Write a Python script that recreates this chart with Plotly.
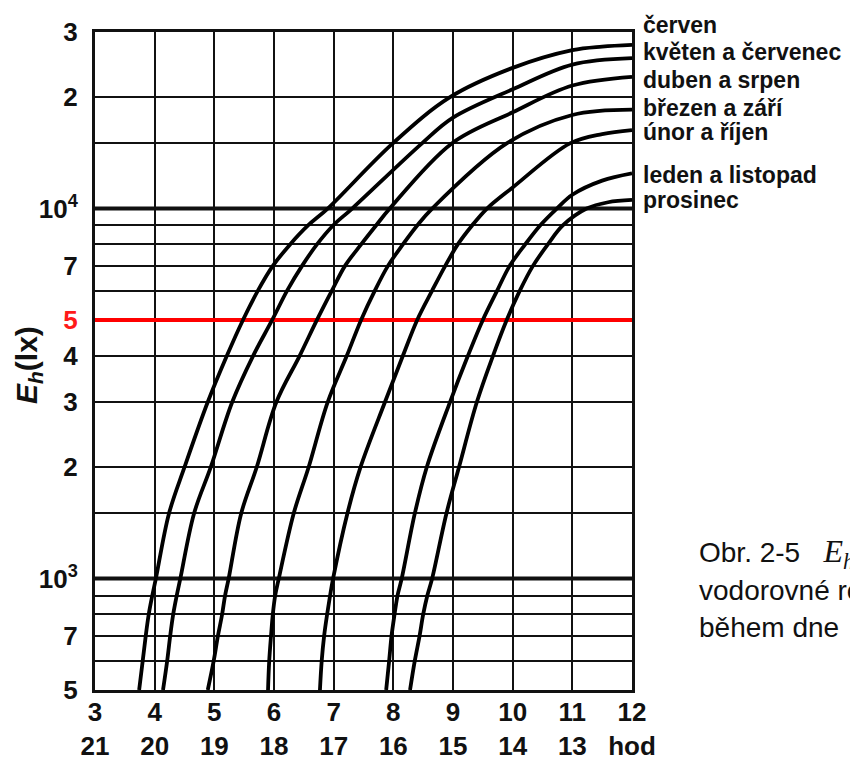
import plotly.graph_objects as go

# ---------------- data ----------------
hours = [3, 4, 5, 6, 7, 8, 9, 10, 11, 12]
hours_pm = ["21", "20", "19", "18", "17", "16", "15", "14", "13", "hod"]

y_label_vals = [30000, 20000, 10000, 7000, 5000, 4000, 3000, 2000, 1000, 700, 500]
y_labels = ["3", "2", "10<sup>4</sup>", "7", "<span style='color:#ff1a1a'>5</span>", "4",
            "3", "2", "10<sup>3</sup>", "7", "5"]
y_minor_grid = [15000, 9000, 8000, 6000, 1500, 900, 800, 600]
decade_lines = [1000, 10000]
red_level = 5000

base_E = [500, 600, 700, 800, 900, 1000, 1500, 2000, 3000, 4000,
          5000, 6000, 7000, 8000, 9000, 10000]

cerven_h = [3.74, 3.80, 3.85, 3.90, 3.96, 4.02, 4.24, 4.50, 4.89, 5.21,
            5.48, 5.73, 5.98, 6.27, 6.57, 6.90, 7.99, 8.95, 10.0, 11.0, 11.5, 12.0]
cerven_E = base_E + [15000, 20000, 24000, 26800, 27400, 27700]

kveten_h = [4.14, 4.21, 4.26, 4.31, 4.37, 4.43, 4.66, 4.94, 5.30, 5.65,
            5.97, 6.22, 6.47, 6.72, 6.99, 7.31, 8.48, 9.0, 10.0, 11.0, 12.0]
kveten_E = base_E + [15000, 17600, 21000, 24500, 25500]

duben_h = [4.89, 4.99, 5.06, 5.13, 5.18, 5.24, 5.45, 5.71, 6.04, 6.43,
           6.72, 6.97, 7.19, 7.46, 7.71, 7.94, 8.98, 10.0, 11.0, 12.0]
duben_E = base_E + [15000, 18200, 21500, 22700]

brezen_h = [5.90, 5.92, 5.95, 5.98, 6.02, 6.08, 6.33, 6.58, 6.90, 7.22,
            7.46, 7.69, 7.91, 8.16, 8.40, 8.65, 9.90, 11.0, 12.0]
brezen_E = base_E + [15000, 17900, 18500]

unor_h = [6.77, 6.80, 6.84, 6.89, 6.94, 6.99, 7.23, 7.45, 7.86, 8.16,
          8.40, 8.65, 8.87, 9.08, 9.32, 9.57, 10.0, 10.96, 11.5, 12.0]
unor_E = base_E + [11400, 15000, 15900, 16300]

leden_h = [7.88, 7.93, 7.97, 8.02, 8.07, 8.14, 8.36, 8.56, 8.95, 9.25,
           9.50, 9.74, 9.95, 10.21, 10.46, 10.74, 11.0, 11.5, 12.0]
leden_E = base_E + [10900, 11900, 12450]

prosinec_h = [8.28, 8.36, 8.44, 8.50, 8.57, 8.65, 8.89, 9.10, 9.40, 9.67,
              9.90, 10.12, 10.34, 10.59, 10.84, 11.24, 11.6, 12.0]
prosinec_E = base_E + [10400, 10550]

curves = [
    ("červen", cerven_h, cerven_E),
    ("květen a červenec", kveten_h, kveten_E),
    ("duben a srpen", duben_h, duben_E),
    ("březen a září", brezen_h, brezen_E),
    ("únor a říjen", unor_h, unor_E),
    ("leden a listopad", leden_h, leden_E),
    ("prosinec", prosinec_h, prosinec_E),
]

# label pixel rows (layout)
label_px_y = [25, 52, 80, 108, 132, 175, 200]

# ---------------- figure ----------------
W, H = 850, 760
L, R, T, B = 95, 218, 32, 70
pw, ph = W - L - R, H - T - B

def px_to_paper_x(px):
    return (px - L) / pw

def px_to_paper_y(py):
    return 1 - (py - T) / ph

fig = go.Figure()

for v in decade_lines:
    fig.add_trace(go.Scatter(x=[hours[0], hours[-1]], y=[v, v], mode="lines",
                             line=dict(color="#111", width=4), hoverinfo="skip", showlegend=False))
fig.add_trace(go.Scatter(x=[hours[0], hours[-1]], y=[red_level, red_level], mode="lines",
                         line=dict(color="#ff0000", width=4), hoverinfo="skip", showlegend=False))

for name, hx, ey in curves:
    fig.add_trace(go.Scatter(x=hx, y=ey, mode="lines", name=name,
                             line=dict(color="#000", width=3.8, shape="spline", smoothing=1.0),
                             showlegend=False))

tick_x_text = [f"{a}<br>{b}" for a, b in zip(hours, hours_pm)]
tick_font_x = dict(family="Liberation Sans", size=26, weight="bold", color="#111")
tick_font_y = dict(family="Liberation Sans", size=26, weight="bold", color="#111")

fig.update_layout(
    width=W, height=H,
    margin=dict(l=L, r=R, t=T, b=B, autoexpand=False),
    paper_bgcolor="white", plot_bgcolor="white",
    font=dict(family="Liberation Sans", color="#111"),
    xaxis=dict(range=[3, 12], tickvals=hours, ticktext=tick_x_text, automargin=False,
               showgrid=True, gridcolor="#111", gridwidth=2,
               showline=True, linecolor="#111", linewidth=3, mirror=True,
               ticks="", zeroline=False, ticklabelstandoff=-3, tickfont=tick_font_x),
    yaxis=dict(type="log", range=[2.69897, 4.4771213], tickvals=y_label_vals, ticktext=y_labels,
               automargin=False,
               showgrid=True, gridcolor="#111", gridwidth=2,
               minor=dict(tickvals=y_minor_grid, showgrid=True, gridcolor="#111", gridwidth=2, ticks=""),
               showline=True, linecolor="#111", linewidth=3, mirror=True,
               ticks="", zeroline=False, ticklabelstandoff=9, tickfont=tick_font_y),
)

annotations = []
for (name, _, _), py in zip(curves, label_px_y):
    annotations.append(dict(xref="paper", yref="paper", x=px_to_paper_x(641), y=px_to_paper_y(py),
                            text=name, showarrow=False, xanchor="left", yanchor="middle",
                            font=dict(family="Liberation Sans", size=23, weight="bold", color="#111")))

annotations.append(dict(xref="paper", yref="paper", x=px_to_paper_x(29), y=px_to_paper_y(365),
                        text="<i>E<sub>h</sub></i>(lx)", showarrow=False, textangle=-90,
                        xanchor="center", yanchor="middle",
                        font=dict(family="Liberation Sans", size=30, weight="bold", color="#111")))

caption = ["Obr. 2-5   <span style='font-family:Liberation Serif;font-size:32px'><i>E<sub>h</sub></i></span>",
           "vodorovné roviny",
           "během dne"]
for txt, py in zip(caption, [553, 590, 627]):
    annotations.append(dict(xref="paper", yref="paper", x=px_to_paper_x(697), y=px_to_paper_y(py),
                            text=txt, showarrow=False, xanchor="left", yanchor="middle",
                            font=dict(family="Liberation Sans", size=28, color="#111")))

fig.update_layout(annotations=annotations)

fig.write_html("out.html", config={"displayModeBar": False},
               post_script="document.body.style.margin='0px';")
